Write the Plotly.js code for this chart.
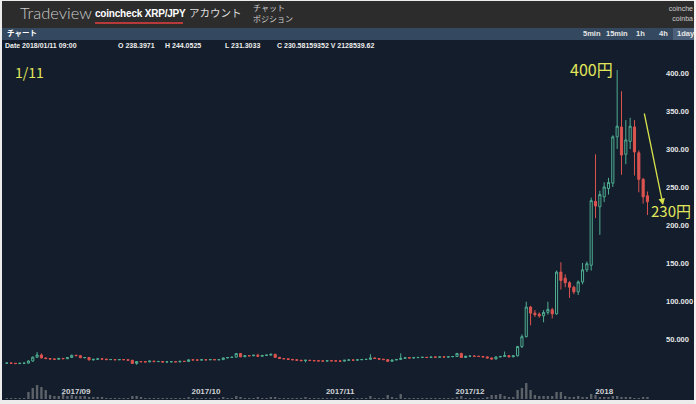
<!DOCTYPE html>
<html><head><meta charset="utf-8">
<script src="https://cdn.plot.ly/plotly-3.0.1.min.js"></script>
<style>
body{margin:0;width:696px;height:404px;overflow:hidden;background:#ececec;position:relative;font-family:"Liberation Sans","Noto Sans CJK JP",sans-serif}
.a{position:absolute;white-space:nowrap;line-height:1}
#hdr{left:2px;top:1px;width:692px;height:27px;background:#2c2c2c}
#bar{left:2px;top:28px;width:692px;height:12px;background:#34495f}
#chart{position:absolute;left:2px;top:40px;width:692px;height:360px}
.info{top:42px;font-size:7px;font-weight:bold;color:#eeeeee;z-index:5}
.tf{top:30px;font-size:7.5px;font-weight:bold;color:#e6e6e6}
</style></head>
<body>
<div class="a" id="hdr"></div>
<div class="a" style="left:20px;top:5px;font-family:Lato,'Open Sans',sans-serif;font-weight:300;font-size:16.5px;color:#cacaca">Tradeview</div>
<div class="a" style="left:95px;top:9px;font-size:10px;font-weight:bold;color:#ffffff;letter-spacing:-0.2px">coincheck XRP/JPY</div>
<div class="a" style="left:95px;top:22px;width:88px;height:2px;background:#b8393a"></div>
<div class="a" style="left:189px;top:8px;font-family:'Noto Sans CJK JP';font-size:10.5px;color:#dddddd">アカウント</div>
<div class="a" style="left:253px;top:4px;font-family:'Noto Sans CJK JP';font-size:8px;color:#d0d0d0">チャット</div>
<div class="a" style="left:253px;top:15px;font-family:'Noto Sans CJK JP';font-size:8px;color:#d0d0d0">ポジション</div>
<div class="a" style="right:3px;top:5px;font-size:7px;color:#cfcfcf">coinche</div>
<div class="a" style="right:3px;top:15px;font-size:7px;color:#cfcfcf">coinba</div>
<div class="a" id="bar"></div>
<div class="a" style="left:673px;top:28px;width:21px;height:12px;background:#4c6179"></div>
<div class="a" style="left:7px;top:29px;font-family:'Noto Sans CJK JP';font-weight:bold;font-size:7.5px;color:#ffffff">チャート</div>
<div class="a tf" style="left:583px">5min</div>
<div class="a tf" style="left:606px">15min</div>
<div class="a tf" style="left:636px">1h</div>
<div class="a tf" style="left:659px">4h</div>
<div class="a tf" style="left:677px">1day</div>
<div id="chart"></div>
<div class="a info" style="left:5px">Date 2018/01/11 09:00</div>
<div class="a info" style="left:118px">O 238.3971</div>
<div class="a info" style="left:165px">H 244.0525</div>
<div class="a info" style="left:225px">L 231.3033</div>
<div class="a info" style="left:277px">C 230.58159352 V 2128539.62</div>
<div class="a" style="left:694px;top:0;width:2px;height:404px;background:#f4f4f4"></div>
<script>
// daily candles, XRP/JPY, starting 2017-08-16
const startDate = '2017-08-16';
const open = [
 18.2,18.3,18.0,17.6,18.0,18.2,21.0,26.0,29.0,25.0,24.2,23.6,23.3,24.4,24.0,25.6,
 28.5,28.0,25.3,25.6,22.5,23.2,23.9,23.5,22.8,23.0,22.6,22.9,22.7,22.0,17.8,20.3,20.0,19.8,20.9,20.2,20.4,19.7,19.9,20.1,19.8,20.6,20.4,22.6,22.4,22.2,
 22.7,22.5,23.0,22.6,22.8,25.0,25.6,26.0,30.8,26.5,28.0,27.8,28.6,27.2,28.3,28.8,29.8,25.8,24.3,23.9,23.1,22.6,22.0,21.4,22.0,21.6,21.3,21.1,20.9,21.4,21.2,
 21.0,20.8,22.0,22.4,22.1,22.6,23.0,23.2,25.0,24.3,23.4,22.8,20.6,22.3,23.0,24.5,25.3,25.0,25.4,25.7,25.9,25.6,26.2,26.0,26.4,26.2,26.6,26.9,31.0,25.6,
 27.3,27.5,27.2,27.0,26.4,25.0,23.6,26.4,27.0,28.0,26.5,27.8,40.0,53.0,92.0,84.0,82.5,80.5,85.0,88.5,83.0,138.0,130.0,124.0,118.0,112.0,125.0,141.0,147.0,231.0,224.0,
 237,248,255,316,329,293,310,329,295,260,238.4];
const high = [
 18.6,18.8,18.4,18.2,18.5,22.0,27.0,33.0,31.0,25.8,24.8,24.2,25.0,25.0,26.0,29.5,
 29.2,28.6,26.2,26.0,23.8,24.4,24.3,24.0,23.4,23.5,23.3,23.5,23.0,22.3,20.8,20.9,20.5,21.2,21.2,20.8,20.7,20.3,20.5,20.4,21.0,21.0,23.0,23.2,22.9,23.0,
 23.1,23.2,23.3,23.1,25.5,26.0,26.3,31.5,31.6,28.6,28.6,29.0,30.5,28.6,29.2,30.5,30.4,26.2,24.8,24.3,23.7,23.0,22.4,22.6,22.5,22.0,21.8,21.6,21.8,21.9,21.6,
 21.4,22.3,22.8,22.7,22.9,23.4,23.6,30.0,25.6,24.6,23.8,23.4,22.6,23.4,31.0,25.6,25.9,25.7,26.0,26.3,26.4,26.5,26.8,26.7,26.9,26.8,27.3,31.5,31.8,27.8,
 28.0,28.0,27.8,27.5,26.9,25.4,26.8,27.5,33.5,28.6,28.6,41.0,56.0,99.0,93.5,88.0,85.0,88.0,99.0,91.0,140.0,151.0,135.0,126.0,120.0,127.0,150.0,152.0,236.0,293.0,245.0,
 256,262,318,404,376,338,341,338,298,262,244.05];
const low = [
 17.9,17.8,17.2,17.3,17.6,17.9,20.0,25.0,24.5,23.5,23.2,22.8,22.6,23.6,23.5,25.0,
 27.6,24.8,24.6,21.8,21.5,22.8,23.0,22.2,22.3,22.0,22.2,22.3,21.6,17.0,16.0,19.6,19.3,19.6,20.0,19.8,19.4,19.2,19.5,19.6,19.6,20.0,20.2,22.0,21.8,22.0,
 22.1,22.3,22.2,22.0,22.5,24.6,25.2,25.8,26.0,26.2,27.4,27.5,26.5,27.0,27.8,28.2,25.2,23.8,23.5,22.7,22.4,21.8,21.0,19.2,21.2,21.0,20.8,20.6,20.5,20.9,20.7,
 20.3,20.6,21.6,21.8,21.9,22.3,22.6,22.9,23.9,23.0,22.4,19.8,20.3,22.0,22.8,24.0,24.6,24.6,25.0,25.2,25.3,25.4,25.8,25.7,25.9,25.9,26.2,26.7,25.0,25.2,
 26.6,26.9,26.7,26.1,24.6,23.0,23.3,25.6,26.5,26.0,26.0,27.0,38.0,52.0,68.0,79.0,78.0,72.0,82.0,77.0,82.0,115.0,118.0,104.0,109.0,108.0,122.0,138.0,140.0,209.0,187.0,
 230,240,250,300,266,280,300,265,243,228,213];
const close = [
 18.3,18.0,17.6,18.0,18.2,21.0,26.0,29.0,25.0,24.2,23.6,23.3,24.4,24.0,25.6,28.5,
 28.0,25.3,25.6,22.5,23.2,23.9,23.5,22.8,23.0,22.6,22.9,22.7,22.0,17.8,20.3,20.0,19.8,20.9,20.2,20.4,19.7,19.9,20.1,19.8,20.6,20.4,22.6,22.4,22.2,22.7,
 22.5,23.0,22.6,22.8,25.0,25.6,26.0,30.8,26.5,28.0,27.8,28.6,27.2,28.3,28.8,29.8,25.8,24.3,23.9,23.1,22.6,22.0,21.4,22.0,21.6,21.3,21.1,20.9,21.4,21.2,21.0,
 20.8,22.0,22.4,22.1,22.6,23.0,23.2,25.0,24.3,23.4,22.8,20.6,22.3,23.0,24.5,25.3,25.0,25.4,25.7,25.9,25.6,26.2,26.0,26.4,26.2,26.6,26.9,31.0,25.6,27.3,
 27.5,27.2,27.0,26.4,25.0,23.6,26.4,27.0,28.0,26.5,27.8,40.0,53.0,92.0,84.0,82.0,80.5,85.0,89.0,83.0,138.0,127.0,124.0,118.0,112.0,125.0,141.0,149.0,232.0,225.0,240.0,
 250,256,316,330,292,312,330,296,260,237,230.6];
// daily volume, millions of XRP
const volume = [
 1,1,1,1,1,7,11,14,12,9,4,3,3,5,3,4,
 3,3,3,2,2,2,2,1,1,1,1,1,1,3,3,2,1,1,1,1,1,1,1,1,1,1,2,1,1,1,
 1,1,1,1,2,1,1,3,2,1,1,1,2,1,1,2,2,1,1,1,1,1,1,2,1,1,1,1,1,1,1,
 1,1,1,1,1,1,1,3,1,1,1,4,2,1,5,1,1,1,1,1,1,1,1,1,1,1,1,2,3,1,
 1,1,1,1,2,4,4,5,3,2,2,9,11,16,9,4,3,3,3,3,7,7,3,2,2,3,2,2,5,4,2,
 2,2,3,3,2,2,2,1,1,2,2];
const yTickVals = [50,100,150,200,250,300,350,400];
const yTickText = ['50.000','100.000','150.00','200.00','250.00','300.00','350.00','400.00'];
const xTickVals = ['2017-09-01','2017-10-01','2017-11-01','2017-12-01','2018-01-01'];
const xTickText = ['2017/09','2017/10','2017/11','2017/12','2018'];

const dates = [];
{ const d0 = new Date(startDate + 'T00:00:00Z');
  for (let i = 0; i < close.length; i++) {
    const d = new Date(d0.getTime() + i * 86400000);
    dates.push(d.toISOString().slice(0, 10));
  } }

const NAVY = '#131d2b';
const traces = [
 {type:'bar', x:dates, y:volume, yaxis:'y2', marker:{color:'#5d6269'}, width:0.55*86400000, hoverinfo:'skip'},
 {type:'candlestick', x:dates, open:open, high:high, low:low, close:close, whiskerwidth:0,
  increasing:{line:{color:'#4fae92', width:1}, fillcolor:NAVY},
  decreasing:{line:{color:'#dc5450', width:1}, fillcolor:'#dc5450'}, hoverinfo:'skip'}
];
const Y = '#e2e65c';
const layout = {
 width:692, height:360, margin:{l:1, r:34, t:0, b:1},
 paper_bgcolor:NAVY, plot_bgcolor:NAVY, showlegend:false,
 xaxis:{type:'date', range:['2017-08-15 03:00','2018-01-13 21:30'], rangeslider:{visible:false},
   showgrid:false, zeroline:false, showline:false, ticks:'', tickvals:xTickVals, ticktext:xTickText,
   ticklabelposition:'inside', tickfont:{family:'Liberation Sans', size:8, weight:'bold', color:'#cfd2d6'}},
 yaxis:{range:[-29, 443.4], side:'right', showgrid:false, zeroline:false, showline:false, ticks:'',
   tickvals:yTickVals, ticktext:yTickText, ticklabelstandoff:5,
   tickfont:{family:'Liberation Sans', size:7.5, weight:'bold', color:'#e4e6e8'}},
 yaxis2:{overlaying:'y', range:[0,360], visible:false},
 annotations:[
  {xref:'paper', yref:'paper', x:0.041, y:0.911, xanchor:'center', yanchor:'middle', text:'1/11', showarrow:false, font:{family:'Noto Sans CJK JP', size:14, color:Y}},
  {xref:'paper', yref:'paper', x:0.895, y:0.919, xanchor:'center', yanchor:'middle', text:'400円', showarrow:false, font:{family:'Noto Sans CJK JP', size:16, color:Y}},
  {xref:'paper', yref:'paper', x:1.016, y:0.525, xanchor:'center', yanchor:'middle', text:'230円', showarrow:false, font:{family:'Noto Sans CJK JP', size:15, color:Y}},
  {xref:'paper', yref:'paper', x:1.0046, y:0.5404, ax:-19, ay:-93, text:'', showarrow:true, arrowhead:2, arrowsize:1, arrowwidth:1.3, arrowcolor:'#d8e04c', standoff:0}
 ]
};
Plotly.newPlot('chart', traces, layout, {staticPlot:true, displayModeBar:false});
</script>
</body></html>
